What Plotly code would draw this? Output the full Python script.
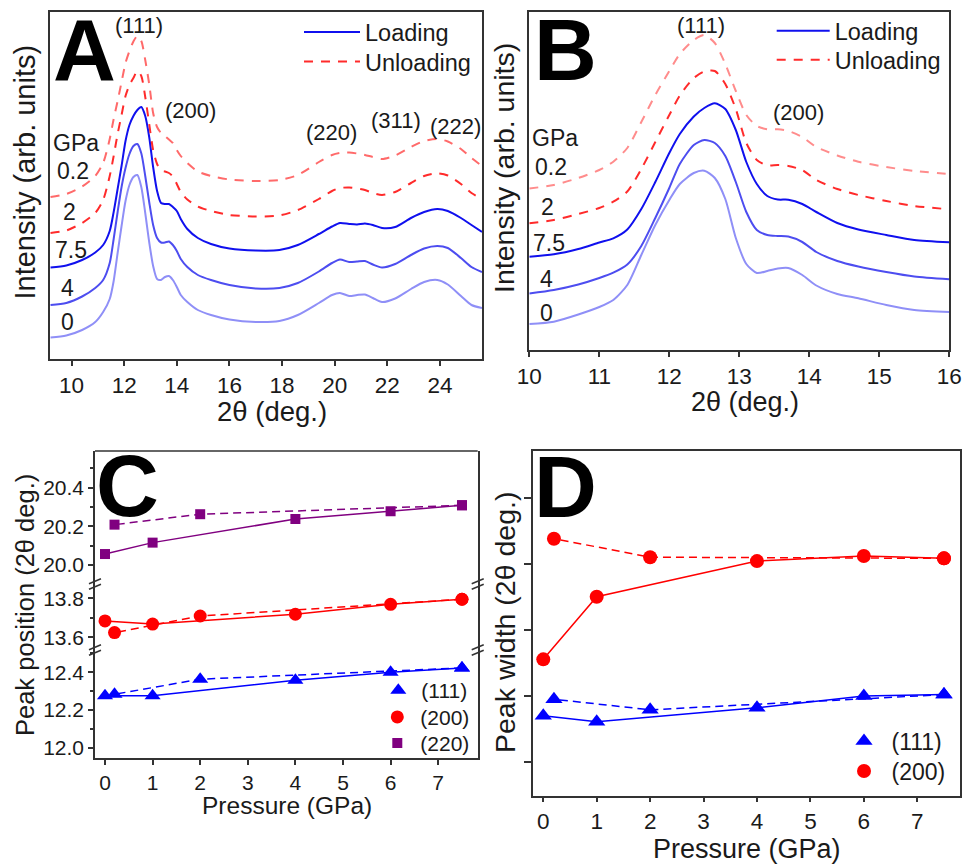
import plotly.graph_objects as go

FONT = "Arial, 'Liberation Sans', Helvetica, sans-serif"
W, H = 966, 864
AX = "#333333"
TXT = "#1a1a1a"


def fx(p):
    return p / W


def fy(p):
    return 1 - p / H


# ---------------- Panel A data (2theta in deg, intensity in arb. units) ----------------
a_two_theta = [9.2, 9.8, 10.4, 10.9, 11.2, 11.45, 11.6, 11.75, 11.9, 12.05, 12.2, 12.35, 12.5,
               12.65, 12.8, 12.95, 13.1, 13.25, 13.4, 13.55, 13.7, 13.85, 14.0, 14.15, 14.4,
               14.8, 15.3, 16.0, 17.0, 17.9, 18.6, 19.4, 19.9, 20.2, 20.55, 20.85, 21.15,
               21.45, 21.8, 22.3, 22.9, 23.4, 23.9, 24.3, 24.8, 25.2, 25.6]
a_0gpa = [21.5, 23.5, 29, 37, 47, 60, 78, 106, 133, 158, 174, 182, 184, 172, 146, 117, 93, 80,
          79, 82, 83, 79, 72, 64, 57, 49, 44, 39.5, 37, 38, 44, 56, 64, 66, 63, 64, 64.5, 61,
          57, 60.5, 70, 77, 79, 74.5, 63, 54, 51]
a_4gpa = [54, 56, 62.5, 71, 79, 96, 120, 147, 172, 191, 205, 213, 215, 205.7, 183, 157, 134,
          121, 116.5, 116.5, 117.5, 114, 108, 100, 92, 84, 79, 74, 70.5, 71, 76, 87.5, 96,
          99.5, 97, 97.5, 98, 94.5, 91.5, 95, 104, 110.5, 113, 111, 101, 92, 87]
a_75gpa = [91.5, 93.5, 99, 106.5, 114, 128, 147, 170, 193, 218, 234, 243, 249, 252, 243, 222,
           192, 168, 156, 155, 155, 152, 148, 140, 130, 121, 115, 110.5, 108.5, 109, 114, 125,
           132.5, 136, 135, 134.5, 135.5, 134, 131, 132, 141, 147, 150, 148, 141, 134, 127]
a_2gpa = [126, 128.5, 136, 146, 159, 183, 203, 225, 244, 263, 274, 281, 288, 283, 262, 235,
          209, 195, 188.5, 187.5, 186, 182.5, 175, 167, 159.5, 152.5, 148, 144, 142.5, 143.5,
          149, 160, 168, 171, 171.5, 170.5, 169, 166, 164, 167, 176, 183, 185.7, 183.5, 175,
          166, 160]
a_02gpa = [162, 165, 172.5, 183, 196, 220, 240, 258, 277, 296, 308, 317.5, 323, 318, 299, 275,
           246, 232, 226, 223, 219.5, 216, 209, 203, 196, 187.5, 183, 179.5, 178, 179, 184,
           197, 204, 206, 206.5, 205.5, 204, 202, 200, 203.5, 212, 218, 220, 217.5, 210, 201,
           193]

# ---------------- Panel B data ----------------
b_two_theta = [10.0, 10.35, 10.7, 11.0, 11.2, 11.4, 11.6, 11.8, 12.0, 12.15, 12.35, 12.5, 12.65,
               12.8, 12.95, 13.1, 13.25, 13.4, 13.55, 13.7, 13.9, 14.1, 14.4, 14.7, 15.1, 15.5,
               16.0]
b_0gpa = [26, 28.3, 35.5, 43, 50, 65, 95, 125, 150, 166, 177, 179.3, 172, 151, 112, 86, 77, 79,
          81.5, 82, 75, 64.5, 56, 51.7, 45, 40, 38]
b_4gpa = [56.5, 60, 65.5, 72, 77.3, 85.5, 104, 132, 162, 186, 205, 210, 207, 194, 168, 138, 120,
          115, 114, 113.5, 108, 98, 89, 83.5, 78, 73.5, 70.7]
b_75gpa = [93.3, 95.7, 101, 107.5, 111.7, 120.5, 141, 168, 197, 216, 233.5, 242, 246.7, 241, 220,
           188, 166, 154, 150.5, 150.3, 146, 138, 127, 120.5, 115, 110, 107.7]
b_2gpa = [126.7, 130, 136, 142, 148.3, 158.5, 181, 208, 235, 254.5, 272, 278.5, 279, 266, 241,
          207, 190, 184.5, 185, 184, 180, 170, 161, 155, 149, 144, 140.7]
b_02gpa = [161.5, 165, 172, 180, 188.3, 202, 228, 255, 279, 296, 310, 315, 307, 286, 259, 235,
           224, 220.7, 220.7, 219, 213, 203, 194.5, 188.3, 183, 179, 176]

# ---------------- Panels C / D data ----------------
loading_pressure = [0, 1, 4, 6, 7.5]
unloading_pressure = [7.5, 2, 0.2]
c_111_loading = [12.275, 12.275, 12.357, 12.400, 12.423]
c_111_unloading = [12.423, 12.363, 12.283]
c_200_loading = [13.684, 13.668, 13.718, 13.769, 13.795]
c_200_unloading = [13.795, 13.709, 13.624]
c_220_loading = [20.057, 20.116, 20.238, 20.278, 20.309]
c_220_unloading = [20.309, 20.263, 20.209]
d_111_loading = [0.70, 0.61, 0.82, 1.00, 1.02]
d_111_unloading = [1.02, 0.79, 0.95]
d_200_loading = [1.554, 2.501, 3.041, 3.117, 3.082]
d_200_unloading = [3.082, 3.10, 3.38]

peak_labels_a = ["(111)", "(200)", "(220)", "(311)", "(222)"]
peak_labels_b = ["(111)", "(200)"]
pressure_labels = ["GPa", "0.2", "2", "7.5", "4", "0"]
x_ticks_a = [10, 12, 14, 16, 18, 20, 22, 24]
x_ticks_b = [10, 11, 12, 13, 14, 15, 16]

BLUE_75 = "#1010ee"
BLUE_4 = "#4d4df0"
BLUE_0 = "#8f8ff7"
RED_2 = "#ff2b2b"
RED_02 = "#ff6a6a"
RED_02B = "#ff8c8c"
XRD_DASH = "9px,8px"

fig = go.Figure()

curves_a = [
    (a_0gpa, BLUE_0, "solid", None, None),
    (a_4gpa, BLUE_4, "solid", None, None),
    (a_75gpa, BLUE_75, "solid", "Loading", "legend"),
    (a_2gpa, RED_2, XRD_DASH, "Unloading", "legend2"),
    (a_02gpa, RED_02, XRD_DASH, None, None),
]
for ys, col, dash, name, leg in curves_a:
    fig.add_trace(go.Scatter(
        x=a_two_theta, y=ys, mode="lines", xaxis="x", yaxis="y",
        line=dict(color=col, width=2, dash=dash, shape="spline", smoothing=0.7),
        name=name or "", showlegend=name is not None, legend=leg or "legend",
        hoverinfo="skip"))

curves_b = [
    (b_0gpa, BLUE_0, "solid", None, None),
    (b_4gpa, BLUE_4, "solid", None, None),
    (b_75gpa, BLUE_75, "solid", "Loading", "legend3"),
    (b_2gpa, RED_2, XRD_DASH, "Unloading", "legend4"),
    (b_02gpa, RED_02B, XRD_DASH, None, None),
]
for ys, col, dash, name, leg in curves_b:
    fig.add_trace(go.Scatter(
        x=b_two_theta, y=ys, mode="lines", xaxis="x2", yaxis="y2",
        line=dict(color=col, width=2, dash=dash, shape="spline", smoothing=0.7),
        name=name or "", showlegend=name is not None, legend=leg or "legend",
        hoverinfo="skip"))

PT_DASH = "8px,5px"
c_series = [
    ("(111)", c_111_loading, c_111_unloading, "#0000ff", "triangle-up", 14, "y3", "legend5"),
    ("(200)", c_200_loading, c_200_unloading, "#ff0000", "circle", 13, "y4", "legend6"),
    ("(220)", c_220_loading, c_220_unloading, "#800080", "square", 10, "y5", "legend7"),
]
for name, yl, yu, col, sym, size, yax, leg in c_series:
    fig.add_trace(go.Scatter(x=loading_pressure, y=yl, mode="lines", xaxis="x3", yaxis=yax,
                             line=dict(color=col, width=1.5), showlegend=False))
    fig.add_trace(go.Scatter(x=unloading_pressure, y=yu, mode="lines", xaxis="x3", yaxis=yax,
                             line=dict(color=col, width=1.5, dash=PT_DASH), showlegend=False))
    fig.add_trace(go.Scatter(x=loading_pressure + unloading_pressure, y=yl + yu, mode="markers",
                             xaxis="x3", yaxis=yax, name=name, legend=leg,
                             marker=dict(color=col, symbol=sym, size=size, line=dict(width=0))))

d_series = [
    ("(111)", d_111_loading, d_111_unloading, "#0000ff", "triangle-up", 15, "legend8"),
    ("(200)", d_200_loading, d_200_unloading, "#ff0000", "circle", 14, "legend9"),
]
for name, yl, yu, col, sym, size, leg in d_series:
    fig.add_trace(go.Scatter(x=loading_pressure, y=yl, mode="lines", xaxis="x4", yaxis="y6",
                             line=dict(color=col, width=1.5), showlegend=False))
    fig.add_trace(go.Scatter(x=unloading_pressure, y=yu, mode="lines", xaxis="x4", yaxis="y6",
                             line=dict(color=col, width=1.5, dash=PT_DASH), showlegend=False))
    fig.add_trace(go.Scatter(x=loading_pressure + unloading_pressure, y=yl + yu, mode="markers",
                             xaxis="x4", yaxis="y6", name=name, legend=leg,
                             marker=dict(color=col, symbol=sym, size=size, line=dict(width=0))))


def base_axis(**kw):
    d = dict(showgrid=False, zeroline=False, showline=True, linecolor=AX, linewidth=1.5,
             ticks="outside", tickcolor=AX, tickwidth=1.5, ticklen=5, automargin=False,
             tickfont=dict(family=FONT, size=22.5, color=TXT))
    d.update(kw)
    return d


layout = dict(
    width=W, height=H, margin=dict(l=0, r=0, t=0, b=0, pad=0, autoexpand=False),
    paper_bgcolor="white", plot_bgcolor="white",
    font=dict(family=FONT, color=TXT),
    xaxis=base_axis(domain=[fx(50), fx(482)], range=[9.18, 25.6], anchor="y",
                    tickvals=x_ticks_a, mirror=True),
    yaxis=base_axis(domain=[fy(359), fy(12)], range=[0, 347], anchor="x",
                    showticklabels=False, ticks="", mirror=True),
    xaxis2=base_axis(domain=[fx(529.3), fx(949.3)], range=[10, 16], anchor="y2",
                     tickvals=x_ticks_b, mirror=True),
    yaxis2=base_axis(domain=[fy(350), fy(12)], range=[0, 338], anchor="x2",
                     showticklabels=False, ticks="", mirror=True),
    xaxis3=base_axis(domain=[fx(95), fx(477.7)], range=[-0.21, 7.83], anchor="y3",
                     dtick=1, tick0=0, tickfont=dict(family=FONT, size=21, color=TXT)),
    yaxis3=base_axis(domain=[fy(758), fy(650)], range=[11.945, 12.518], anchor="x3",
                     dtick=0.2, tick0=0, tickformat=".1f", mirror=True,
                     tickfont=dict(family=FONT, size=21, color=TXT),
                     minor=dict(dtick=0.1, tick0=0, ticks="outside", ticklen=3, tickcolor=AX)),
    yaxis4=base_axis(domain=[fy(650), fy(584)], range=[13.535, 13.873], anchor="x3",
                     dtick=0.2, tick0=0, tickformat=".1f", mirror=True,
                     tickfont=dict(family=FONT, size=21, color=TXT),
                     minor=dict(dtick=0.1, tick0=0, ticks="outside", ticklen=3, tickcolor=AX)),
    yaxis5=base_axis(domain=[fy(584), fy(451)], range=[19.902, 20.59], anchor="x3",
                     dtick=0.2, tick0=0, tickformat=".1f", mirror=True,
                     tickfont=dict(family=FONT, size=21, color=TXT),
                     minor=dict(dtick=0.1, tick0=0, ticks="outside", ticklen=3, tickcolor=AX)),
    xaxis4=base_axis(domain=[fx(532.7), fx(960)], range=[-0.198, 7.8], anchor="y6",
                     dtick=1, tick0=0, mirror=True),
    yaxis6=base_axis(domain=[fy(795.7), fy(451)], range=[-0.51, 4.707], anchor="x4",
                     tickvals=[0, 1, 2, 3, 4], showticklabels=False, ticklen=7, mirror=True),
)


def leg(xp, yp, size, itemwidth):
    return dict(x=fx(xp), y=fy(yp), xanchor="left", yanchor="middle", bgcolor="rgba(0,0,0,0)",
                borderwidth=0, itemwidth=itemwidth, tracegroupgap=0,
                font=dict(family=FONT, size=size, color=TXT))


layout["legend"] = leg(299, 32.3, 23.5, 56)
layout["legend2"] = leg(299, 61.7, 23.5, 56)
layout["legend3"] = leg(771.7, 31, 23.5, 53)
layout["legend4"] = leg(771.7, 60, 23.5, 53)
layout["legend5"] = leg(375.3, 690.5, 21, 36)
layout["legend6"] = leg(374.3, 717.3, 21, 36)
layout["legend7"] = leg(374.3, 743.3, 21, 36)
layout["legend8"] = leg(836.5, 741, 23, 45)
layout["legend9"] = leg(836.5, 771, 23, 45)

fig.update_layout(**layout)

ann = []


def text(t, xp, yp, size, bold=False, angle=0, xanchor="center"):
    ann.append(dict(text=f"<b>{t}</b>" if bold else t, x=fx(xp), y=fy(yp), xref="paper",
                    yref="paper", showarrow=False, xanchor=xanchor, yanchor="middle",
                    textangle=angle, font=dict(family=FONT, size=size, color="black" if bold else TXT)))


# panel letters
text("A", 84, 49, 87, bold=True)
text("B", 565, 49, 87, bold=True)
text("C", 127.5, 485, 87, bold=True)
text("D", 565.7, 486.7, 87, bold=True)

# peak labels
for t, (xp, yp) in zip(peak_labels_a, [(139, 26), (190, 110), (331.7, 132), (395.5, 121), (455, 126)]):
    text(t, xp, yp, 22)
for t, (xp, yp) in zip(peak_labels_b, [(701, 25), (798, 113)]):
    text(t, xp, yp, 22)

# pressure labels
for t, (xp, yp) in zip(pressure_labels, [(76, 143), (72.5, 171), (69, 211.7), (70.5, 249.5),
                                          (67.5, 287.5), (67.5, 322.5)]):
    text(t, xp, yp, 23)
for t, (xp, yp) in zip(pressure_labels, [(554.7, 138), (550.5, 166.5), (547.5, 206.7),
                                          (548.5, 242.5), (546, 279), (546, 312.5)]):
    text(t, xp, yp, 23)

# axis titles
text("2θ (deg.)", 271.7, 411, 27.5)
text("2θ (deg.)", 745, 402, 27)
text("Intensity (arb. units)", 24, 172.5, 29, angle=-90)
text("Intensity (arb. units)", 504, 168, 28.5, angle=-90)
text("Pressure (GPa)", 287, 805, 24.5)
text("Pressure (GPa)", 746.7, 849, 27)
text("Peak position (2θ deg.)", 25, 605, 25.5, angle=-90)
text("Peak width (2θ deg.)", 505, 623, 28.5, angle=-90)

fig.update_layout(annotations=ann)

# frame top of panel C and axis-break marks
shapes = [dict(type="line", xref="paper", yref="paper", x0=fx(95), x1=fx(477.7),
               y0=fy(451), y1=fy(451), line=dict(color=AX, width=1.5))]
for yb in (584, 650):
    for xb in (95, 477.7):
        for off in (-2.8, 2.8):
            shapes.append(dict(type="line", xref="paper", yref="paper",
                               x0=fx(xb - 6), x1=fx(xb + 6),
                               y0=fy(yb + off + 2.5), y1=fy(yb + off - 2.5),
                               line=dict(color=AX, width=1.5)))
fig.update_layout(shapes=shapes)

fig.write_html("out.html", config={"displayModeBar": False},
               post_script="document.body.style.margin='0px';document.body.style.padding='0px';")
